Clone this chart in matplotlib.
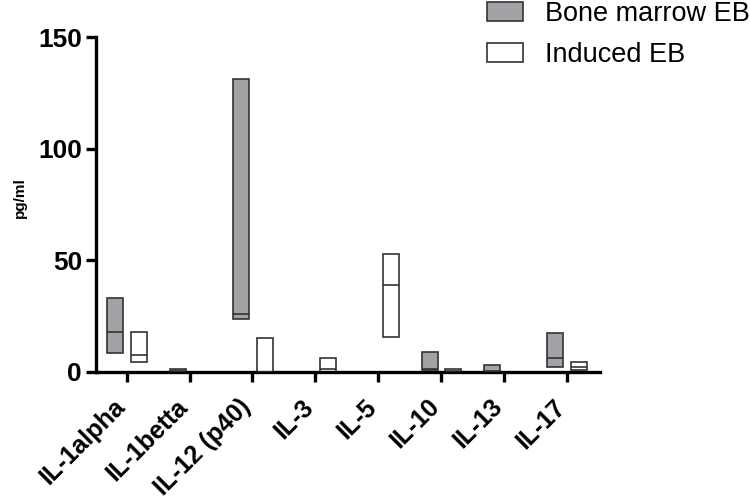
import matplotlib
matplotlib.use("Agg")
import matplotlib.pyplot as plt
from matplotlib.patches import Patch
from matplotlib.transforms import ScaledTranslation
import numpy as np

plt.rcParams['font.family'] = ['Liberation Sans', 'DejaVu Sans']

categories = ["IL-1alpha", "IL-1betta", "IL-12 (p40)", "IL-3", "IL-5", "IL-10", "IL-13", "IL-17"]

# Bone marrow EB: min, median, max (NaN = not shown)
bm_min = [8.3, 0.0, 23.5, np.nan, np.nan, 0.6, 0.0, 2.0]
bm_med = [17.9, 0.4, 25.8, np.nan, np.nan, 1.2, 0.3, 6.0]
bm_max = [32.9, 1.0, 131.3, np.nan, np.nan, 8.7, 3.1, 17.5]

# Induced EB: min, median, max
ind_min = [4.4, np.nan, 0.0, 0.0, 15.6, 0.0, np.nan, 0.8]
ind_med = [7.5, np.nan, 0.0, 1.2, 38.9, 0.3, np.nan, 2.2]
ind_max = [17.7, np.nan, 15.0, 6.3, 52.7, 1.2, np.nan, 4.4]

fig = plt.figure(figsize=(7.5, 5), dpi=100)
ax = fig.add_axes([0.128, 0.2566, 0.672, 0.6688])

x = np.arange(len(categories))
w = 0.254
off_bm, off_ind = -0.185, 0.195
edge = "#333333"

def draw(offset, mins, meds, maxs, fc):
    mins = np.array(mins, float); meds = np.array(meds, float); maxs = np.array(maxs, float)
    ok = ~np.isnan(mins)
    xs = x[ok] + offset
    ax.bar(xs, maxs[ok] - mins[ok], bottom=mins[ok], width=w, color=fc,
           edgecolor=edge, linewidth=1.2, zorder=2)
    ax.hlines(meds[ok], xs - w / 2, xs + w / 2, colors=edge, linewidth=1.2, zorder=3)

draw(off_bm, bm_min, bm_med, bm_max, "#a3a3a7")
draw(off_ind, ind_min, ind_med, ind_max, "white")

ax.set_xlim(-0.488, 7.525)
ax.set_ylim(0, 150)

for s in ["top", "right"]:
    ax.spines[s].set_visible(False)
for s in ["left", "bottom"]:
    ax.spines[s].set_linewidth(2.4)
ax.tick_params(axis="both", width=2.4, length=7)
ax.tick_params(axis="y", pad=3)
ax.tick_params(axis="x", pad=6)

ax.set_yticks([0, 50, 100, 150])
ax.set_xticks(x)
ax.set_xticklabels(categories, rotation=45, ha="right", rotation_mode="anchor",
                   fontsize=18, fontweight="bold")
shift = ScaledTranslation(-14 / 100, -5 / 100, fig.dpi_scale_trans)
for lab in ax.get_xticklabels():
    lab.set_transform(lab.get_transform() + shift)
for lab in ax.get_yticklabels():
    lab.set_fontsize(19)
    lab.set_fontweight("bold")
ax.set_ylabel("pg/ml", fontsize=11, fontweight="bold")
ax.yaxis.set_label_coords(-0.138, 0.52)

handles = [Patch(facecolor="#a3a3a7", edgecolor=edge, linewidth=1.2, label="Bone marrow EB"),
           Patch(facecolor="white", edgecolor=edge, linewidth=1.2, label="Induced EB")]
fig.legend(handles=handles, loc="upper left", bbox_to_anchor=(487 / 750, 1 - 1 / 500),
           frameon=False, fontsize=19.5, handlelength=1.33, handleheight=0.67,
           labelspacing=0.55, handletextpad=0.8, borderpad=0, borderaxespad=0)

fig.savefig("out.png", dpi=100)
